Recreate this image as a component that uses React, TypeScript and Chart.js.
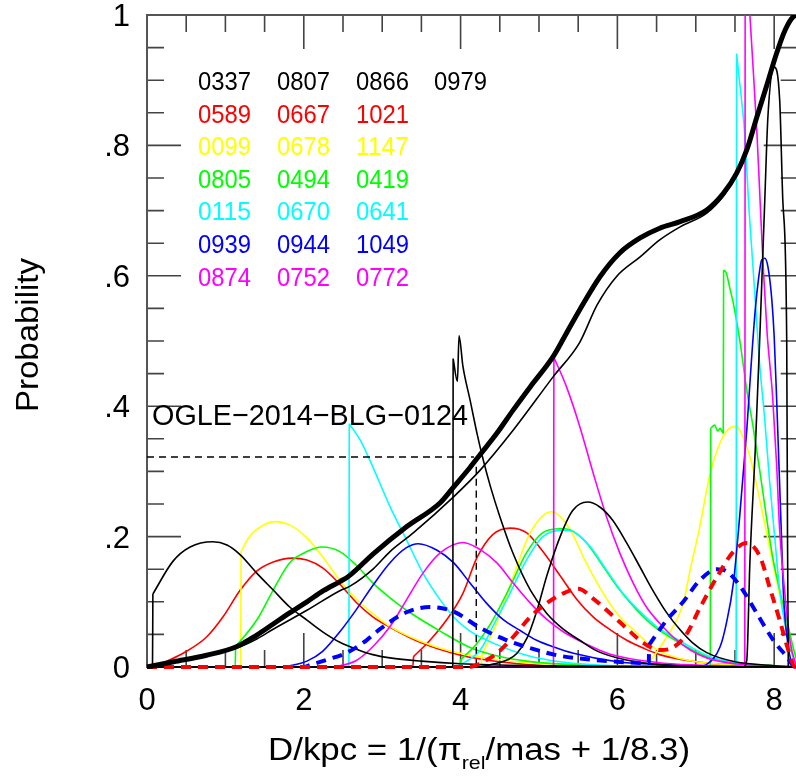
import { useEffect, useRef } from "react";
import { Chart, registerables } from "chart.js";
Chart.register(...registerables);

type P = [number, number];

// ---------- axis ----------
const X_MIN = 0;
const X_MAX = 8.3;
const Y_MIN = 0;
const Y_MAX = 1;
const xTickValues = [0, 2, 4, 6, 8];
const xTickLabels = ["0", "2", "4", "6", "8"];
const yTickValues = [0, 0.2, 0.4, 0.6, 0.8, 1];
const yTickLabels = ["0", ".2", ".4", ".6", ".8", "1"];

// ---------- legend ----------
const legendBlack = ["0337", "0807", "0866", "0979"];
const legendRed = ["0589", "0667", "1021"];
const legendYellow = ["0099", "0678", "1147"];
const legendGreen = ["0805", "0494", "0419"];
const legendCyan = ["0115", "0670", "0641"];
const legendBlue = ["0939", "0944", "1049"];
const legendMagenta = ["0874", "0752", "0772"];

// ---------- black ----------
const black0337: P[] = [[0, 0], [0.07, 0], [0.075, 0.112], [0.33, 0.162], [0.55, 0.184], [0.84, 0.192], [1.02, 0.187], [1.19, 0.172], [1.4, 0.144], [1.61, 0.118], [1.82, 0.092], [2.04, 0.072], [2.24, 0.054], [2.46, 0.038], [2.68, 0.027], [2.88, 0.019], [3.1, 0.014], [3.5, 0.009], [4.0, 0.005], [5.0, 0.002], [6.0, 0.001], [8.3, 0]];
const black0807: P[] = [[0, 0], [3.9, 0], [3.905, 0.473], [3.96, 0.438], [3.98, 0.508], [4.03, 0.461], [4.12, 0.41], [4.21, 0.358], [4.29, 0.317], [4.38, 0.277], [4.5, 0.231], [4.67, 0.174], [4.89, 0.118], [5.1, 0.082], [5.31, 0.058], [5.52, 0.041], [5.75, 0.024], [6.1, 0.011], [6.5, 0.004], [7.0, 0.001], [8.3, 0]];
const black0866: P[] = [[0, 0], [4.2, 0], [4.4, 0.004], [4.6, 0.011], [4.72, 0.021], [4.85, 0.045], [4.97, 0.085], [5.1, 0.14], [5.27, 0.2], [5.43, 0.24], [5.62, 0.253], [5.78, 0.245], [5.94, 0.225], [6.12, 0.19], [6.29, 0.153], [6.45, 0.118], [6.63, 0.083], [6.8, 0.057], [6.96, 0.037], [7.14, 0.022], [7.5, 0.008], [8.0, 0.002], [8.3, 0]];
const black0979: P[] = [[0, 0], [7.6, 0], [7.65, 0.01], [7.69, 0.16], [7.76, 0.337], [7.82, 0.517], [7.88, 0.716], [7.92, 0.844], [8.0, 0.92], [8.07, 0.87], [8.11, 0.716], [8.16, 0.5], [8.17, 0.2], [8.18, 0], [8.3, 0]];

// ---------- red ----------
const red0589: P[] = [[0, 0], [0.235, 0], [0.24, 0.008], [0.46, 0.021], [0.76, 0.046], [0.97, 0.077], [1.19, 0.118], [1.4, 0.147], [1.61, 0.161], [1.85, 0.167], [2.04, 0.164], [2.24, 0.152], [2.46, 0.127], [2.67, 0.099], [2.88, 0.077], [3.1, 0.061], [3.5, 0.037], [4.0, 0.018], [4.5, 0.008], [5.0, 0.003], [6.0, 0.001], [8.3, 0]];
const red0667: P[] = [[0, 0], [3.39, 0], [3.4, 0.016], [3.61, 0.041], [3.82, 0.072], [4.03, 0.113], [4.21, 0.168], [4.41, 0.203], [4.63, 0.213], [4.84, 0.206], [5.05, 0.177], [5.27, 0.14], [5.48, 0.104], [5.69, 0.077], [5.91, 0.057], [6.12, 0.041], [6.33, 0.029], [6.54, 0.019], [7.0, 0.008], [7.5, 0.003], [8.3, 0]];

// ---------- yellow ----------
const yellow0099: P[] = [[0, 0], [1.195, 0], [1.2, 0.177], [1.29, 0.197], [1.4, 0.211], [1.63, 0.223], [1.82, 0.218], [2.04, 0.198], [2.24, 0.169], [2.46, 0.133], [2.67, 0.104], [2.88, 0.082], [3.1, 0.062], [3.48, 0.04], [3.86, 0.025], [4.5, 0.011], [5.0, 0.005], [6.0, 0.001], [8.3, 0]];
const yellow0678: P[] = [[0, 0], [4.265, 0], [4.27, 0.018], [4.46, 0.067], [4.67, 0.138], [4.89, 0.206], [5.16, 0.238], [5.38, 0.214], [5.61, 0.158], [5.82, 0.113], [6.03, 0.077], [6.25, 0.052], [6.45, 0.031], [6.71, 0.016], [7.0, 0.008], [7.5, 0.003], [8.3, 0]];
const yellow1147: P[] = [[0, 0], [6.395, 0], [6.4, 0.006], [6.63, 0.046], [6.84, 0.098], [6.93, 0.15], [7.05, 0.215], [7.18, 0.295], [7.31, 0.344], [7.44, 0.367], [7.52, 0.369], [7.6, 0.353], [7.69, 0.323], [7.78, 0.277], [7.86, 0.231], [7.95, 0.179], [8.03, 0.133], [8.11, 0.087], [8.2, 0.041], [8.27, 0.006], [8.3, 0]];

// ---------- green ----------
const green0805: P[] = [[0, 0], [1.125, 0], [1.13, 0.031], [1.4, 0.072], [1.61, 0.118], [1.82, 0.16], [2.04, 0.177], [2.23, 0.184], [2.46, 0.177], [2.67, 0.156], [2.88, 0.129], [3.1, 0.106], [3.31, 0.087], [3.74, 0.055], [4.12, 0.03], [4.5, 0.016], [4.84, 0.009], [5.5, 0.003], [6.5, 0.001], [8.3, 0]];
const green0494: P[] = [[0, 0], [3.995, 0], [4.0, 0.011], [4.2, 0.035], [4.41, 0.072], [4.63, 0.123], [4.84, 0.175], [5.05, 0.206], [5.27, 0.212], [5.4, 0.21], [5.61, 0.19], [5.82, 0.154], [6.03, 0.118], [6.25, 0.087], [6.45, 0.064], [6.67, 0.046], [6.88, 0.031], [7.14, 0.016], [7.5, 0.007], [8.3, 0]];
const green0419: P[] = [[0, 0], [7.185, 0], [7.19, 0.366], [7.24, 0.371], [7.28, 0.362], [7.31, 0.366], [7.35, 0.359], [7.355, 0.609], [7.39, 0.604], [7.44, 0.578], [7.47, 0.563], [7.56, 0.502], [7.65, 0.425], [7.73, 0.369], [7.82, 0.298], [7.9, 0.231], [7.98, 0.169], [8.07, 0.118], [8.16, 0.072], [8.24, 0.031], [8.3, 0.005]];

// ---------- cyan ----------
const cyan0115: P[] = [[0, 0], [2.575, 0], [2.58, 0.373], [2.72, 0.348], [2.88, 0.307], [3.1, 0.246], [3.31, 0.195], [3.52, 0.144], [3.74, 0.103], [3.95, 0.072], [4.12, 0.055], [4.41, 0.037], [4.84, 0.018], [5.27, 0.008], [6.0, 0.002], [8.3, 0]];
const cyan0670: P[] = [[0, 0], [3.9, 0], [4.0, 0.004], [4.25, 0.026], [4.41, 0.062], [4.63, 0.113], [4.84, 0.164], [5.05, 0.2], [5.31, 0.21], [5.43, 0.208], [5.65, 0.185], [5.86, 0.149], [6.07, 0.113], [6.29, 0.085], [6.5, 0.062], [6.71, 0.046], [6.96, 0.029], [7.22, 0.014], [7.6, 0.005], [8.3, 0]];
const cyan0641: P[] = [[0, 0], [7.515, 0], [7.52, 0.941], [7.57, 0.885], [7.62, 0.824], [7.68, 0.7], [7.75, 0.578], [7.81, 0.471], [7.88, 0.379], [7.94, 0.287], [8.01, 0.195], [8.07, 0.118], [8.15, 0.057], [8.24, 0.015], [8.3, 0]];

// ---------- blue ----------
const blue0939: P[] = [[0, 0], [1.7, 0], [1.82, 0.002], [2.04, 0.009], [2.24, 0.024], [2.46, 0.054], [2.67, 0.088], [2.88, 0.125], [3.1, 0.16], [3.31, 0.183], [3.46, 0.189], [3.7, 0.179], [3.91, 0.16], [4.12, 0.129], [4.33, 0.098], [4.54, 0.073], [4.76, 0.056], [4.97, 0.041], [5.18, 0.031], [5.44, 0.021], [6.0, 0.008], [6.5, 0.004], [7.0, 0.002], [8.3, 0]];
const blue0944: P[] = [[0, 0], [7.0, 0], [7.14, 0.004], [7.31, 0.031], [7.39, 0.067], [7.48, 0.129], [7.56, 0.231], [7.65, 0.363], [7.71, 0.47], [7.76, 0.55], [7.8, 0.595], [7.84, 0.624], [7.88, 0.627], [7.92, 0.614], [7.97, 0.563], [8.0, 0.507], [8.03, 0.415], [8.06, 0.313], [8.09, 0.21], [8.12, 0.108], [8.18, 0.031], [8.24, 0.003], [8.3, 0]];

// ---------- magenta ----------
const magenta0874: P[] = [[0, 0], [2.3, 0], [2.46, 0.002], [2.67, 0.01], [2.88, 0.031], [3.1, 0.062], [3.31, 0.103], [3.52, 0.144], [3.74, 0.175], [4.03, 0.191], [4.25, 0.18], [4.46, 0.16], [4.67, 0.129], [4.89, 0.098], [5.1, 0.073], [5.31, 0.054], [5.52, 0.04], [5.9, 0.02], [6.5, 0.007], [7.0, 0.003], [8.3, 0]];
const magenta0752: P[] = [[0, 0], [5.185, 0], [5.19, 0.475], [5.35, 0.43], [5.52, 0.369], [5.69, 0.298], [5.86, 0.231], [6.03, 0.175], [6.2, 0.129], [6.37, 0.092], [6.54, 0.067], [6.71, 0.046], [6.93, 0.026], [7.14, 0.014], [7.5, 0.005], [8.3, 0]];
const magenta0772: P[] = [[0, 0], [7.625, 0], [7.63, 1.1], [7.69, 1.0], [7.73, 0.921], [7.78, 0.819], [7.82, 0.716], [7.86, 0.614], [7.91, 0.512], [7.98, 0.415], [8.03, 0.313], [8.07, 0.21], [8.14, 0.108], [8.2, 0.041], [8.27, 0.006], [8.3, 0]];

// ---------- combined (dashed) ----------
const dashedBlue: P[] = [[0, 0], [2.0, 0], [2.08, 0.003], [2.29, 0.011], [2.55, 0.022], [2.8, 0.041], [2.97, 0.058], [3.31, 0.084], [3.61, 0.092], [3.91, 0.085], [4.25, 0.06], [4.59, 0.041], [4.89, 0.029], [5.23, 0.018], [5.52, 0.013], [6.0, 0.008], [6.4, 0.006], [6.405, 0.034], [6.63, 0.072], [6.84, 0.1], [7.05, 0.133], [7.27, 0.15], [7.39, 0.147], [7.56, 0.125], [7.78, 0.082], [7.99, 0.041], [8.16, 0.016], [8.27, 0], [8.3, 0]];
const dashedRed: P[] = [[0, 0], [4.1, 0], [4.2, 0.003], [4.46, 0.021], [4.67, 0.046], [4.89, 0.077], [5.1, 0.098], [5.31, 0.113], [5.5, 0.12], [5.69, 0.105], [5.91, 0.082], [6.12, 0.059], [6.33, 0.037], [6.54, 0.026], [6.71, 0.03], [6.88, 0.05], [7.05, 0.09], [7.27, 0.138], [7.48, 0.177], [7.65, 0.19], [7.82, 0.169], [7.94, 0.123], [8.07, 0.072], [8.18, 0.026], [8.27, 0], [8.3, 0]];

// ---------- cumulative ----------
const cumThick: P[] = [[0, 0], [0.34, 0.008], [0.76, 0.018], [1.14, 0.031], [1.4, 0.049], [1.61, 0.066], [1.82, 0.083], [2.04, 0.1], [2.25, 0.117], [2.46, 0.131], [2.57, 0.139], [2.89, 0.174], [3.31, 0.215], [3.74, 0.252], [3.91, 0.276], [4.12, 0.306], [4.25, 0.326], [4.46, 0.358], [4.67, 0.394], [4.89, 0.43], [5.18, 0.476], [5.35, 0.512], [5.52, 0.548], [5.78, 0.599], [6.03, 0.635], [6.29, 0.658], [6.54, 0.673], [6.8, 0.683], [7.14, 0.701], [7.35, 0.726], [7.52, 0.757], [7.65, 0.793], [7.78, 0.844], [7.9, 0.89], [8.03, 0.941], [8.14, 0.977], [8.24, 0.997], [8.3, 1.0]];
const cumThin: P[] = [[0, 0], [0.34, 0.007], [0.76, 0.017], [1.14, 0.029], [1.4, 0.043], [1.61, 0.058], [2.04, 0.087], [2.46, 0.117], [2.59, 0.124], [2.89, 0.151], [3.1, 0.177], [3.4, 0.206], [3.91, 0.261], [4.25, 0.302], [4.67, 0.363], [5.18, 0.445], [5.52, 0.498], [5.74, 0.555], [5.99, 0.599], [6.29, 0.629], [6.54, 0.655], [6.8, 0.675], [7.14, 0.696], [7.35, 0.722], [7.52, 0.754], [7.65, 0.79], [7.78, 0.842], [7.9, 0.888], [8.03, 0.94], [8.14, 0.976], [8.24, 0.997], [8.3, 1.0]];

// ---------- annotation ----------
const annotLabel = "OGLE\u22122014\u2212BLG\u22120124";
const annotH: P[] = [[0, 0.322], [4.17, 0.322]];
const annotV: P[] = [[4.2, 0.307], [4.2, 0]];

const FONT = '"Liberation Sans", Arial, Helvetica, sans-serif';

function drawFit(ctx: CanvasRenderingContext2D, s: string, x: number, yCenter: number, size: number, color: string, align: "left" | "center" | "right", width?: number) {
  ctx.save();
  ctx.font = `${size}px ${FONT}`;
  const w = ctx.measureText(s).width;
  const sx = width ? width / w : 1;
  ctx.translate(x, yCenter + 0.358 * size);
  ctx.scale(sx, 1);
  ctx.fillStyle = color;
  ctx.textAlign = align;
  ctx.textBaseline = "alphabetic";
  ctx.fillText(s, 0, 0);
  ctx.restore();
}

// split a curve after each vertical jump so the smooth interpolation
// does not bend around the jump
function toData(d: P[]) {
  const out: { x: number; y: number }[] = [];
  for (let i = 0; i < d.length; i++) {
    out.push({ x: d[i][0], y: d[i][1] });
    if (i > 0 && i < d.length - 1 && d[i][0] - d[i - 1][0] <= 0.012 && Math.abs(d[i][1] - d[i - 1][1]) > 0.004) {
      out.push({ x: d[i][0], y: NaN });
      out.push({ x: d[i][0], y: d[i][1] });
    }
  }
  return out;
}

export default function App() {
  const ref = useRef<HTMLCanvasElement>(null);
  useEffect(() => {
    const mk = (d: P[], color: string, width: number, dash: number[] = []) => ({
      data: toData(d),
      borderColor: color,
      borderWidth: width,
      borderDash: dash,
      pointRadius: 0,
      fill: false,
      spanGaps: false,
      cubicInterpolationMode: "monotone" as const,
      borderJoinStyle: "round" as const,
      borderCapStyle: "butt" as const,
      clip: { left: 2, top: 0, right: 2, bottom: 2 },
    });

    const datasets = [
      mk(cumThick, "#000000", 5),
      mk(cumThin, "#000000", 1.6),
      mk(dashedRed, "#ff0000", 4, [10, 7]),
      mk(dashedBlue, "#0000ff", 4, [10, 7]),
      mk(annotH, "#000000", 1.4, [7, 5]),
      mk(annotV, "#000000", 1.4, [7, 5]),
      mk(black0337, "#000000", 1.6),
      mk(black0807, "#000000", 1.6),
      mk(black0866, "#000000", 1.6),
      mk(black0979, "#000000", 1.6),
      mk(magenta0874, "#ff00ff", 1.6),
      mk(magenta0752, "#ff00ff", 1.6),
      mk(magenta0772, "#ff00ff", 1.6),
      mk(blue0939, "#0000ff", 1.6),
      mk(blue0944, "#0000ff", 1.6),
      mk(cyan0115, "#00ffff", 1.6),
      mk(cyan0670, "#00ffff", 1.6),
      mk(cyan0641, "#00ffff", 1.6),
      mk(green0805, "#00ff00", 1.6),
      mk(green0494, "#00ff00", 1.6),
      mk(green0419, "#00ff00", 1.6),
      mk(yellow0099, "#ffff00", 1.6),
      mk(yellow0678, "#ffff00", 1.6),
      mk(yellow1147, "#ffff00", 1.6),
      mk(red0589, "#ff0000", 1.6),
      mk(red0667, "#ff0000", 1.6),
    ];

    const framePlugin = {
      id: "frame",
      beforeDatasetsDraw(chart: any) {
        const ctx: CanvasRenderingContext2D = chart.ctx;
        const { left, right, top, bottom } = chart.chartArea;
        const xs = chart.scales.x;
        const ys = chart.scales.y;
        ctx.save();
        ctx.strokeStyle = "#444444";
        ctx.lineWidth = 1.6;
        ctx.beginPath();
        for (let i = 0; i <= Math.round((X_MAX - X_MIN) / 0.5); i++) {
          const v = X_MIN + i * 0.5;
          const px = xs.getPixelForValue(v);
          const len = Math.abs(v % 2) < 1e-6 ? 34 : 17;
          ctx.moveTo(px, bottom);
          ctx.lineTo(px, bottom - len);
          ctx.moveTo(px, top);
          ctx.lineTo(px, top + len);
        }
        for (let i = 0; i <= 20; i++) {
          const v = Y_MIN + i * 0.05;
          const py = ys.getPixelForValue(v);
          const len = i % 4 === 0 ? 34 : 17;
          ctx.moveTo(left, py);
          ctx.lineTo(left + len, py);
          ctx.moveTo(right, py);
          ctx.lineTo(right - len, py);
        }
        ctx.stroke();
        ctx.lineWidth = 2;
        ctx.strokeStyle = "#555555";
        ctx.strokeRect(left, top, right - left, bottom - top);
        ctx.restore();
      },
      afterDatasetsDraw(chart: any) {
        const ctx: CanvasRenderingContext2D = chart.ctx;
        const xs = chart.scales.x;
        const ys = chart.scales.y;
        const { left, bottom } = chart.chartArea;
        yTickValues.forEach((v, i) => {
          drawFit(ctx, yTickLabels[i], 130, ys.getPixelForValue(v), 31, "#000", "right");
        });
        xTickValues.forEach((v, i) => {
          drawFit(ctx, xTickLabels[i], xs.getPixelForValue(v), bottom + 32, 31, "#000", "center");
        });
        // x title with subscript
        ctx.save();
        const p1 = "D/kpc = 1/(\u03c0";
        const p2 = "rel";
        const p3 = "/mas + 1/8.3)";
        const big = `31px ${FONT}`;
        const small = `19px ${FONT}`;
        ctx.font = big;
        const w1 = ctx.measureText(p1).width;
        const w3 = ctx.measureText(p3).width;
        ctx.font = small;
        const w2 = ctx.measureText(p2).width;
        const total = w1 + w2 + w3;
        const target = 422;
        const sx = target / total;
        const cx = 479;
        const base = 749 + 0.358 * 31;
        ctx.translate(cx - target / 2, base);
        ctx.scale(sx, 1);
        ctx.fillStyle = "#000";
        ctx.textAlign = "left";
        ctx.textBaseline = "alphabetic";
        ctx.font = big;
        ctx.fillText(p1, 0, 0);
        ctx.font = small;
        ctx.fillText(p2, w1, 9);
        ctx.font = big;
        ctx.fillText(p3, w1 + w2, 0);
        ctx.restore();
        // y title
        ctx.save();
        ctx.translate(27, 335);
        ctx.rotate(-Math.PI / 2);
        drawFit(ctx, "Probability", 0, 0, 31, "#000", "center", 154);
        ctx.restore();
        // annotation label
        drawFit(ctx, annotLabel, left + 5, 414, 30, "#000", "left", 316);
        // legend
        const rows: [string[], string][] = [
          [legendBlack, "#000000"],
          [legendRed, "#ff0000"],
          [legendYellow, "#ffff00"],
          [legendGreen, "#00ff00"],
          [legendCyan, "#00ffff"],
          [legendBlue, "#0000ff"],
          [legendMagenta, "#ff00ff"],
        ];
        const colX = [198, 277, 356, 434];
        rows.forEach(([labels, color], r) => {
          labels.forEach((s, c) => {
            drawFit(ctx, s, colX[c], 81 + r * 32.6, 25, color, "left", 53);
          });
        });
      },
    };

    const chart = new Chart(ref.current!, {
      type: "line",
      data: { datasets: datasets as any },
      options: {
        animation: false,
        responsive: false,
        devicePixelRatio: 1,
        events: [],
        layout: { padding: { left: 147, right: 2.3, top: 15, bottom: 111 } },
        plugins: { legend: { display: false }, tooltip: { enabled: false } },
        scales: {
          x: { type: "linear", min: X_MIN, max: X_MAX, display: false },
          y: { type: "linear", min: Y_MIN, max: Y_MAX, display: false },
        },
      },
      plugins: [framePlugin],
    });
    return () => chart.destroy();
  }, []);

  return (
    <div style={{ position: "fixed", left: 0, top: 0, width: 800, height: 778, background: "#fff" }}>
      <canvas ref={ref} width={800} height={778} style={{ width: 800, height: 778, display: "block" }} />
    </div>
  );
}
